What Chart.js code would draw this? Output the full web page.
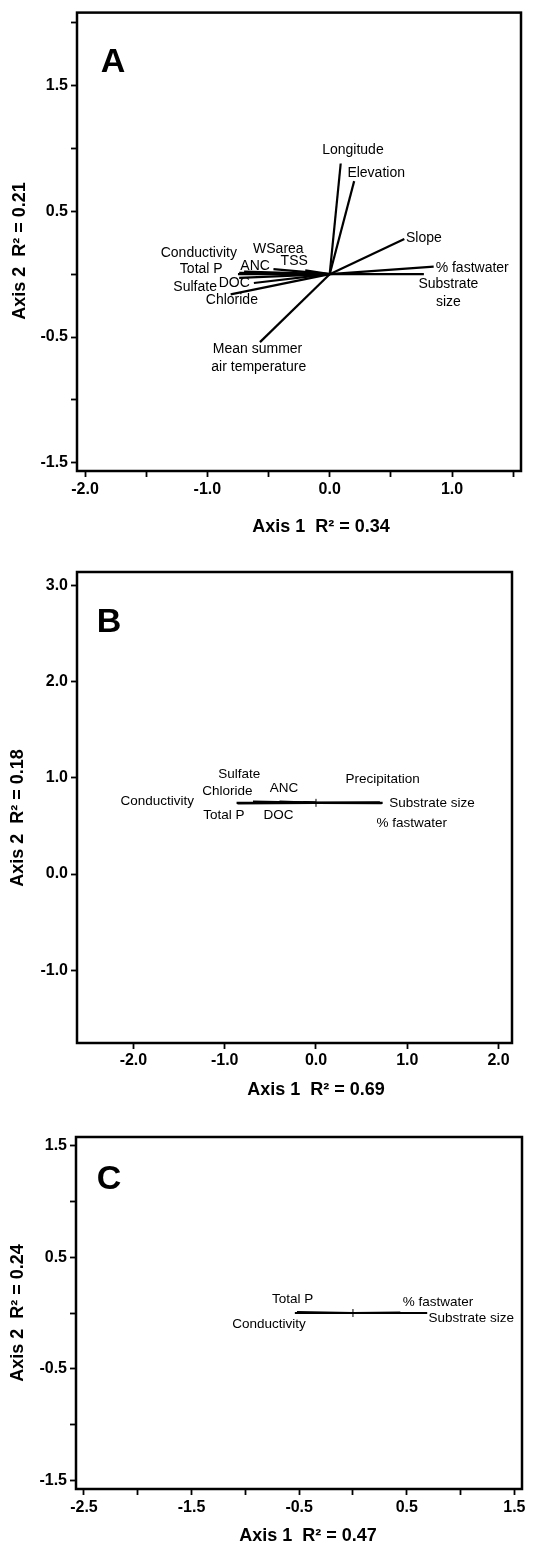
<!DOCTYPE html>
<html><head><meta charset="utf-8">
<script src="https://cdn.jsdelivr.net/npm/chart.js@4.4.1/dist/chart.umd.min.js"></script>
<style>
body{margin:0;background:#fff;width:540px;height:1544px;position:relative;overflow:hidden}
canvas{position:absolute;left:0}
</style></head><body>
<canvas id="cA" width="540" height="540" style="top:0"></canvas>
<canvas id="cB" width="540" height="560" style="top:540px"></canvas>
<canvas id="cC" width="540" height="444" style="top:1100px"></canvas>
<script>
const FONT='"Liberation Sans", Arial, Helvetica, sans-serif';

// panel A - biplot vectors (axis 1, axis 2 scores)
const varsA=['Longitude','Elevation','Slope','% fastwater','Substrate size','Mean summer air temperature','Chloride','DOC','Sulfate','Total P','Conductivity','ANC','WSarea','TSS'];
const ax1A=[0.09,0.20,0.61,0.85,0.77,-0.57,-0.81,-0.62,-0.74,-0.75,-0.74,-0.70,-0.46,-0.20];
const ax2A=[0.88,0.74,0.28,0.06,0.00,-0.54,-0.16,-0.07,-0.03,0.00,0.01,0.02,0.04,0.03];
const originA=[0,0];
const xTicksA=[-2,-1.5,-1,-0.5,0,0.5,1,1.5], xLabA=[-2,-1,0,1];
const yTicksA=[-1.5,-1,-0.5,0,0.5,1,1.5,2], yLabA=[1.5,0.5,-0.5,-1.5];
const xRangeA=[-2.066,1.564], yRangeA=[-1.565,2.08];

// panel B
const varsB=['Conductivity','Total P','Sulfate','Chloride','ANC','DOC','Precipitation','Substrate size','% fastwater'];
const ax1B=[-0.87,-0.86,-0.69,-0.68,-0.40,-0.14,0.70,0.73,0.72];
const ax2B=[0.74,0.735,0.752,0.748,0.752,0.748,0.745,0.74,0.737];
const originB=[0,0.74];
const xTicksB=[-2,-1,0,1,2], xLabB=[-2,-1,0,1,2];
const yTicksB=[-1,0,1,2,3], yLabB=[-1,0,1,2,3];
const xRangeB=[-2.618,2.147], yRangeB=[-1.757,3.14];

// panel C
const varsC=['Conductivity','Total P','% fastwater','Substrate size'];
const ax1C=[-0.54,-0.52,0.44,0.69];
const ax2C=[0,0.008,0.004,0];
const originC=[0,0];
const xTicksC=[-2.5,-2,-1.5,-1,-0.5,0,0.5,1,1.5], xLabC=[-2.5,-1.5,-0.5,0.5,1.5];
const yTicksC=[-1.5,-1,-0.5,0,0.5,1,1.5], yLabC=[-1.5,-0.5,0.5,1.5];
const xRangeC=[-2.574,1.571], yRangeC=[-1.576,1.576];

// vector label placement (data units)
const notesA=[['Longitude',0.19,0.99],['Elevation',0.38,0.80],['Slope',0.77,0.29],['% fastwater',1.165,0.047],['Substrate',0.97,-0.08],['size',0.97,-0.22],
 ['Mean summer',-0.59,-0.60],['air temperature',-0.58,-0.74],['Conductivity',-1.07,0.17],['Total P',-1.05,0.04],['Sulfate',-1.10,-0.10],
 ['DOC',-0.78,-0.07],['Chloride',-0.80,-0.21],['ANC',-0.61,0.06],['WSarea',-0.42,0.20],['TSS',-0.29,0.10]];
const notesB=[['Sulfate',-0.84,1.04],['Chloride',-0.97,0.86],['ANC',-0.35,0.89],['Precipitation',0.73,0.98],['Conductivity',-1.74,0.76],
 ['Total P',-1.01,0.61],['DOC',-0.41,0.61],['Substrate size',1.27,0.738],['% fastwater',1.05,0.53]];
const notesC=[['Total P',-0.56,0.12],['Conductivity',-0.78,-0.10],['% fastwater',0.79,0.10],['Substrate size',1.10,-0.05]];

const deco={id:'deco',afterDraw(ch){
 const o=ch.options.plugins.deco, {ctx,chartArea:a,scales:{x,y}}=ch;
 ctx.save();
 ctx.strokeStyle='#000';ctx.lineWidth=2.5;
 ctx.strokeRect(a.left,a.top,a.right-a.left,a.bottom-a.top);
 ctx.fillStyle='#000';ctx.textAlign='center';ctx.textBaseline='middle';
 ctx.font=o.fs+'px '+FONT;
 o.notes.forEach(n=>ctx.fillText(n[0],x.getPixelForValue(n[1]),y.getPixelForValue(n[2])));
 ctx.font='bold 34px '+FONT;
 ctx.fillText(o.letter,o.lp[0],o.lp[1]);
 ctx.font='bold 18px '+FONT;
 ctx.fillText(o.xt,o.xp[0],o.xp[1]);
 ctx.translate(o.yp[0],o.yp[1]);ctx.rotate(-Math.PI/2);
 ctx.fillText(o.yt,0,0);
 ctx.restore();
}};

function axis(range,ticks,lab,fit,pad){
 return {type:'linear',min:range[0],max:range[1],bounds:'data',
  afterBuildTicks:s=>{s.ticks=ticks.map(v=>({value:v}))},
  afterFit:fit,
  grid:{drawOnChartArea:false,drawTicks:true,tickLength:6,tickWidth:1.8,tickColor:'#000'},
  border:{display:false},
  ticks:{autoSkip:false,maxRotation:0,minRotation:0,padding:pad,color:'#000',
   font:{family:FONT,size:16,weight:'bold'},callback:v=>lab.includes(v)?v.toFixed(1):''}};
}

function panel(id,p){
 const cv=document.getElementById(id);
 const ds=p.vars.map((v,i)=>({label:v,data:[{x:p.origin[0],y:p.origin[1]},{x:p.a1[i],y:p.a2[i]}],
  showLine:true,borderColor:'#000',borderWidth:p.lw,pointRadius:0}));
 if(p.mark)ds.push({label:'centroid',data:[{x:p.origin[0],y:p.origin[1]}],pointStyle:'cross',pointRadius:4,borderColor:'#000',borderWidth:1});
 new Chart(cv,{type:'scatter',data:{datasets:ds},
  options:{responsive:false,animation:false,devicePixelRatio:1,
   layout:{padding:{left:0,top:p.area[1],right:cv.width-p.area[2],bottom:0}},
   plugins:{legend:{display:false},tooltip:{enabled:false},
    deco:{notes:p.notes,fs:p.fs,letter:p.letter,lp:p.lp,xt:p.xt,xp:p.xp,yt:p.yt,yp:p.yp}},
   scales:{
    x:axis(p.xr,p.xt2,p.xl,s=>{s.height=cv.height-p.area[3]},p.xpad),
    y:axis(p.yr,p.yt2,p.yl,s=>{s.width=p.area[0]},3)}},
  plugins:[deco]});
}

panel('cA',{vars:varsA,a1:ax1A,a2:ax2A,origin:originA,lw:2.2,notes:notesA,fs:14,letter:'A',lp:[113,63],
 xr:xRangeA,xt2:xTicksA,xl:xLabA,yr:yRangeA,yt2:yTicksA,yl:yLabA,area:[77,10,521,471],xpad:3,
 xt:'Axis 1  R\u00b2 = 0.34',xp:[321,527],yt:'Axis 2  R\u00b2 = 0.21',yp:[20,251]});
panel('cB',{vars:varsB,a1:ax1B,a2:ax2B,origin:originB,lw:2.2,mark:true,notes:notesB,fs:13.5,letter:'B',lp:[109,83],
 xr:xRangeB,xt2:xTicksB,xl:xLabB,yr:yRangeB,yt2:yTicksB,yl:yLabB,area:[77,32,512,503],xpad:2,
 xt:'Axis 1  R\u00b2 = 0.69',xp:[316,550],yt:'Axis 2  R\u00b2 = 0.18',yp:[18,278]});
panel('cC',{vars:varsC,a1:ax1C,a2:ax2C,origin:originC,lw:2,mark:true,notes:notesC,fs:13.5,letter:'C',lp:[109,80],
 xr:xRangeC,xt2:xTicksC,xl:xLabC,yr:yRangeC,yt2:yTicksC,yl:yLabC,area:[76,37,522,389],xpad:3,
 xt:'Axis 1  R\u00b2 = 0.47',xp:[308,436],yt:'Axis 2  R\u00b2 = 0.24',yp:[18,213]});
</script>
</body></html>
